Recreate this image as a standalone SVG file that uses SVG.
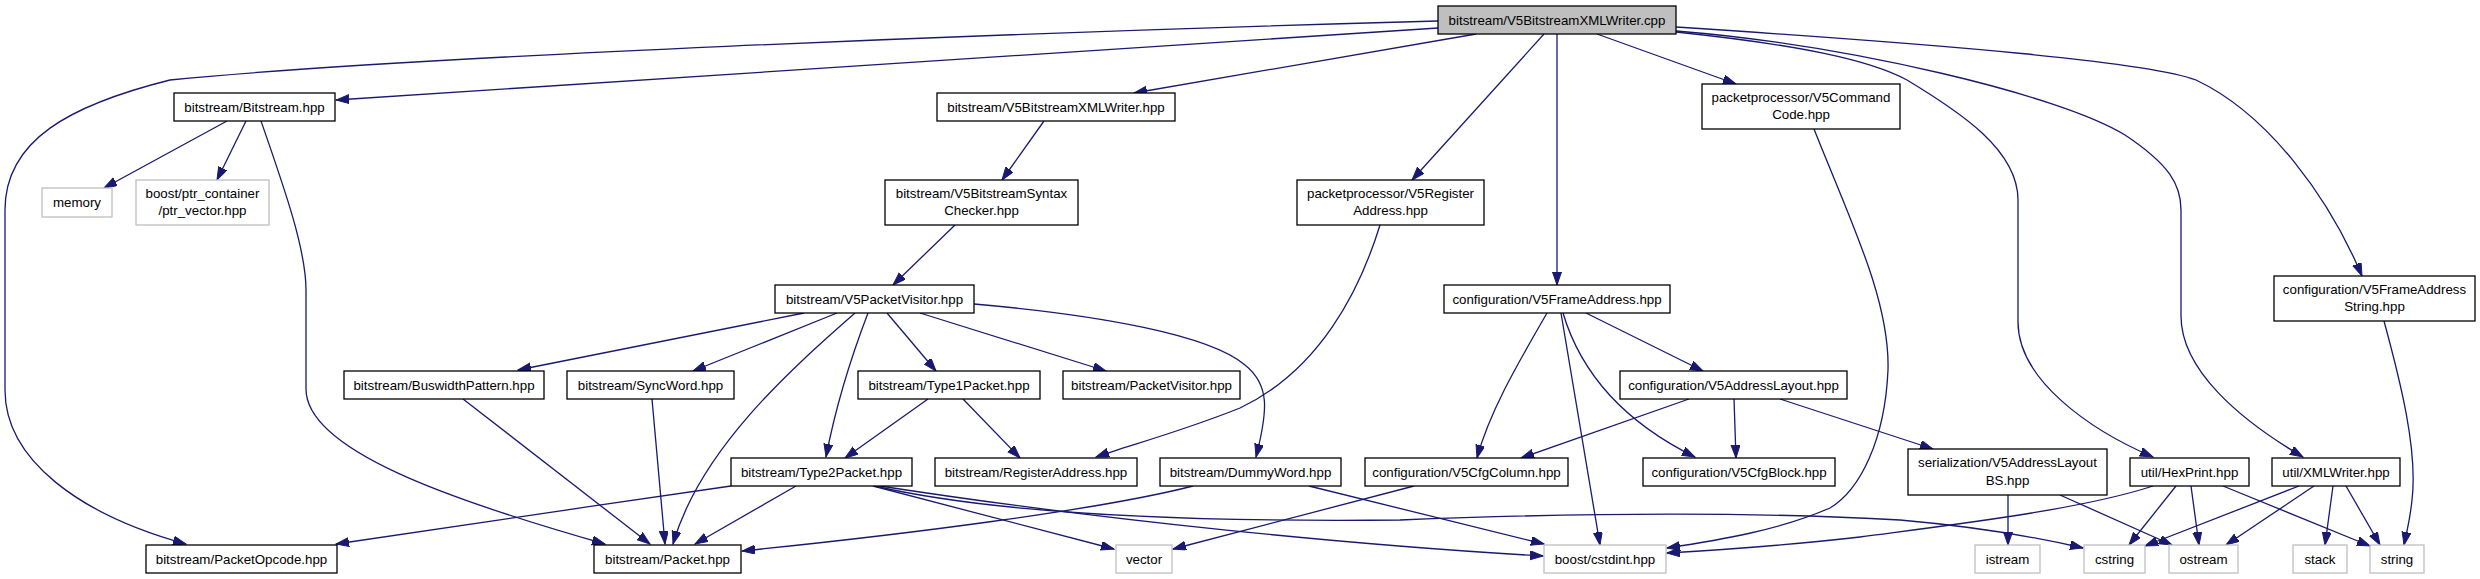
<svg xmlns="http://www.w3.org/2000/svg" width="2480" height="579" viewBox="0 0 2480 579">
<style>
.n rect{fill:#fff;stroke:#000;stroke-width:1.3}
.s rect{fill:#fff;stroke:#bfbfbf;stroke-width:1.3}
.r rect{fill:#bfbfbf;stroke:#000;stroke-width:1.3}
text{font-family:"Liberation Sans",Arial,sans-serif;font-size:13.3px;fill:#000;text-anchor:middle}
.e path{fill:none;stroke:#191970;stroke-width:1.3;marker-end:url(#a)}
</style>
<defs>
<marker id="a" markerUnits="userSpaceOnUse" markerWidth="14" markerHeight="10" refX="13" refY="4.5" orient="auto">
<path d="M0,0 L13,4.5 L0,9 z" fill="#191970" stroke="#191970" stroke-width="1"/>
</marker>
</defs>
<rect width="2480" height="579" fill="#fff"/>
<g class="e" id="edges">
<path d="M1438,28 L336,100"/>
<path d="M1438,21 C1000,33 400,57 170,80 C70,105 5,140 5,210 L5,390 C5,460 80,515 186,544"/>
<path d="M1476,34 L1134,93"/>
<path d="M1544,34 L1412,180"/>
<path d="M1557,34 L1557,285"/>
<path d="M1597,34 L1736,84"/>
<path d="M1676,27 C1950,45 2150,62 2196,80 C2270,115 2330,200 2362,276"/>
<path d="M1676,31 C1850,45 2060,95 2125,135 C2170,165 2181,185 2181,210 L2181,316 C2181,370 2240,420 2303,457"/>
<path d="M1676,32 C1800,45 1870,60 1907,80 C1960,112 2018,150 2018,200 L2018,322 C2018,380 2090,430 2153,457"/>
<path d="M227,121 L104,188"/>
<path d="M246,121 L217,180"/>
<path d="M261,121 C285,190 306,250 306,290 L306,389 C306,450 450,500 605,544"/>
<path d="M1044,121 L1002,180"/>
<path d="M955,225 L893,285"/>
<path d="M804,313 L518,370"/>
<path d="M837,313 L693,371"/>
<path d="M855,313 C790,370 700,450 673,544"/>
<path d="M868,313 C850,360 835,410 826,457"/>
<path d="M887,313 L936,371"/>
<path d="M920,313 L1106,371"/>
<path d="M974,304 C1100,315 1210,335 1245,365 C1270,385 1268,410 1256,457"/>
<path d="M1380,225 C1360,290 1320,370 1240,408 C1180,432 1130,445 1096,457"/>
<path d="M928,399 L845,458"/>
<path d="M963,399 L1020,458"/>
<path d="M731,486 C600,505 450,527 336,544"/>
<path d="M796,486 L695,544"/>
<path d="M873,486 L1114,549"/>
<path d="M875,486 C1000,515 1200,522 1400,520 C1600,512 1760,512 1900,520 C1980,527 2040,538 2083,548"/>
<path d="M880,486 C1100,520 1350,545 1543,556"/>
<path d="M463,399 L650,544"/>
<path d="M652,399 L665,544"/>
<path d="M1193,486 C1100,510 900,535 742,551"/>
<path d="M1309,486 L1544,544"/>
<path d="M1547,313 C1520,360 1490,410 1477,458"/>
<path d="M1561,313 L1600,545"/>
<path d="M1563,313 C1580,370 1620,420 1695,457"/>
<path d="M1586,313 L1703,371"/>
<path d="M1689,399 L1521,458"/>
<path d="M1734,399 L1736,458"/>
<path d="M1780,399 L1933,449"/>
<path d="M1814,129 C1850,220 1890,300 1888,370 C1885,440 1860,490 1830,508 C1780,530 1720,540 1667,548"/>
<path d="M1414,486 L1173,549"/>
<path d="M2008,495 L2008,545"/>
<path d="M2060,495 L2172,545"/>
<path d="M2153,486 C2080,510 1950,525 1860,537 C1790,545 1720,550 1667,553"/>
<path d="M2176,486 L2129,545"/>
<path d="M2191,486 L2199,545"/>
<path d="M2223,486 L2370,546"/>
<path d="M2299,486 L2145,546"/>
<path d="M2314,486 L2226,545"/>
<path d="M2333,486 L2325,545"/>
<path d="M2346,486 L2380,545"/>
<path d="M2384,321 C2400,380 2418,450 2412,500 C2410,520 2406,535 2404,545"/>
</g>
<g id="cpp" class="r"><rect x="1438" y="6" width="238" height="28"/><text x="1557" y="24.5">bitstream/V5BitstreamXMLWriter.cpp</text></g>
<g id="Bitstream" class="n"><rect x="174" y="93" width="161" height="28"/><text x="254.5" y="111.5">bitstream/Bitstream.hpp</text></g>
<g id="V5BitstreamXMLWriter" class="n"><rect x="937" y="93" width="238" height="28"/><text x="1056" y="111.5">bitstream/V5BitstreamXMLWriter.hpp</text></g>
<g id="V5CommandCode" class="n"><rect x="1702" y="84" width="198" height="45"/><text x="1801" y="101.5">packetprocessor/V5Command</text><text x="1801" y="119">Code.hpp</text></g>
<g id="memory" class="s"><rect x="42" y="188" width="70" height="29"/><text x="77" y="207">memory</text></g>
<g id="ptr_vector" class="s"><rect x="136" y="180" width="133" height="45"/><text x="202.5" y="197.5">boost/ptr_container</text><text x="202.5" y="215">/ptr_vector.hpp</text></g>
<g id="SyntaxChecker" class="n"><rect x="885" y="180" width="193" height="45"/><text x="981.5" y="197.5">bitstream/V5BitstreamSyntax</text><text x="981.5" y="215">Checker.hpp</text></g>
<g id="V5RegisterAddress" class="n"><rect x="1297" y="180" width="187" height="45"/><text x="1390.5" y="197.5">packetprocessor/V5Register</text><text x="1390.5" y="215">Address.hpp</text></g>
<g id="V5PacketVisitor" class="n"><rect x="775" y="285" width="199" height="28"/><text x="874.5" y="303.5">bitstream/V5PacketVisitor.hpp</text></g>
<g id="V5FrameAddress" class="n"><rect x="1444" y="285" width="226" height="28"/><text x="1557" y="303.5">configuration/V5FrameAddress.hpp</text></g>
<g id="V5FrameAddressString" class="n"><rect x="2274" y="276" width="201" height="45"/><text x="2374.5" y="293.5">configuration/V5FrameAddress</text><text x="2374.5" y="311">String.hpp</text></g>
<g id="BuswidthPattern" class="n"><rect x="344" y="371" width="200" height="28"/><text x="444" y="389.5">bitstream/BuswidthPattern.hpp</text></g>
<g id="SyncWord" class="n"><rect x="567" y="371" width="167" height="28"/><text x="650.5" y="389.5">bitstream/SyncWord.hpp</text></g>
<g id="Type1Packet" class="n"><rect x="858" y="371" width="182" height="28"/><text x="949" y="389.5">bitstream/Type1Packet.hpp</text></g>
<g id="PacketVisitor" class="n"><rect x="1063" y="371" width="177" height="28"/><text x="1151.5" y="389.5">bitstream/PacketVisitor.hpp</text></g>
<g id="V5AddressLayout" class="n"><rect x="1620" y="371" width="227" height="28"/><text x="1733.5" y="389.5">configuration/V5AddressLayout.hpp</text></g>
<g id="Type2Packet" class="n"><rect x="731" y="458" width="181" height="28"/><text x="821.5" y="476.5">bitstream/Type2Packet.hpp</text></g>
<g id="RegisterAddress" class="n"><rect x="935" y="458" width="202" height="28"/><text x="1036" y="476.5">bitstream/RegisterAddress.hpp</text></g>
<g id="DummyWord" class="n"><rect x="1160" y="458" width="181" height="28"/><text x="1250.5" y="476.5">bitstream/DummyWord.hpp</text></g>
<g id="V5CfgColumn" class="n"><rect x="1365" y="458" width="203" height="28"/><text x="1466.5" y="476.5">configuration/V5CfgColumn.hpp</text></g>
<g id="V5CfgBlock" class="n"><rect x="1643" y="458" width="192" height="28"/><text x="1739" y="476.5">configuration/V5CfgBlock.hpp</text></g>
<g id="V5AddressLayoutBS" class="n"><rect x="1908" y="449" width="199" height="46"/><text x="2007.5" y="466.5">serialization/V5AddressLayout</text><text x="2007.5" y="484.5">BS.hpp</text></g>
<g id="HexPrint" class="n"><rect x="2130" y="458" width="119" height="28"/><text x="2189.5" y="476.5">util/HexPrint.hpp</text></g>
<g id="XMLWriter" class="n"><rect x="2272" y="458" width="128" height="28"/><text x="2336" y="476.5">util/XMLWriter.hpp</text></g>
<g id="PacketOpcode" class="n"><rect x="146" y="545" width="191" height="28"/><text x="241.5" y="563.5">bitstream/PacketOpcode.hpp</text></g>
<g id="Packet" class="n"><rect x="594" y="545" width="147" height="28"/><text x="667.5" y="563.5">bitstream/Packet.hpp</text></g>
<g id="vector" class="s"><rect x="1116" y="545" width="56" height="28"/><text x="1144" y="563.5">vector</text></g>
<g id="cstdint" class="s"><rect x="1544" y="545" width="122" height="28"/><text x="1605" y="563.5">boost/cstdint.hpp</text></g>
<g id="istream" class="s"><rect x="1975" y="545" width="65" height="28"/><text x="2007.5" y="563.5">istream</text></g>
<g id="cstring" class="s"><rect x="2084" y="545" width="61" height="28"/><text x="2114.5" y="563.5">cstring</text></g>
<g id="ostream" class="s"><rect x="2169" y="545" width="69" height="28"/><text x="2203.5" y="563.5">ostream</text></g>
<g id="stack" class="s"><rect x="2293" y="545" width="54" height="28"/><text x="2320" y="563.5">stack</text></g>
<g id="string" class="s"><rect x="2370" y="545" width="54" height="28"/><text x="2397" y="563.5">string</text></g>
</svg>
